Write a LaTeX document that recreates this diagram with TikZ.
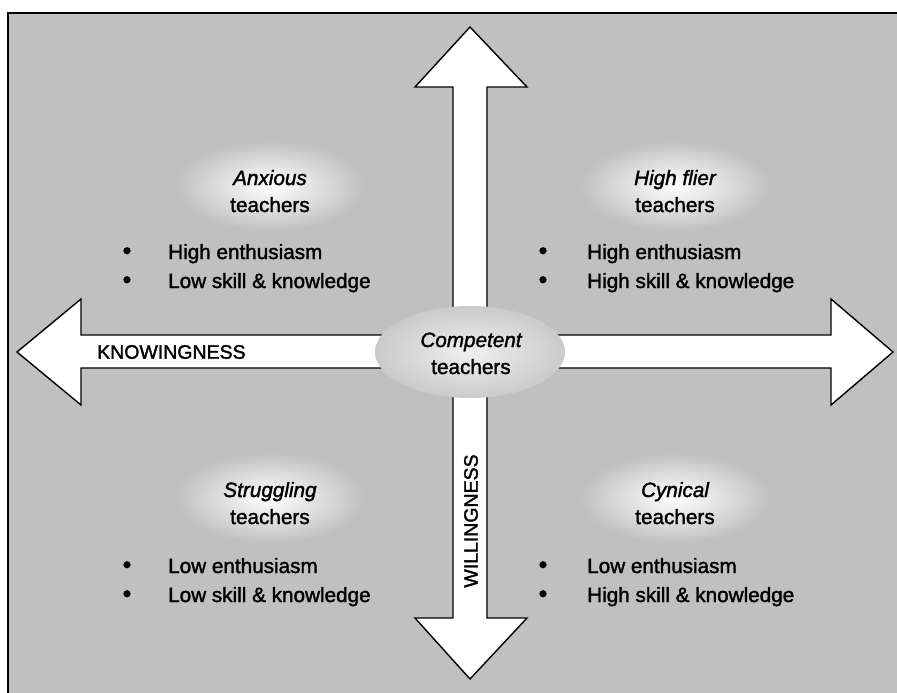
\documentclass[tikz,border=0pt]{standalone}
\usepackage{fontspec}
\setmainfont{Liberation Sans}[FakeBold=1.6]
\definecolor{bg}{RGB}{192,192,192}
\definecolor{ellout}{RGB}{202,202,202}
\definecolor{ellin}{RGB}{240,240,240}
\begin{document}
\begin{tikzpicture}[x=1pt,y=-1pt,
  txt/.style={font=\fontsize{20.7}{24}\selectfont, inner sep=0pt, anchor=base},
  btxt/.style={txt, anchor=base west},
  bul/.style={txt, scale=1.2},
  axislbl/.style={font=\fontsize{19.5}{22}\selectfont, inner sep=0pt},
  arrowshape/.style={fill=white, draw=black, line width=1.4pt, line join=miter},
  glow/.style={inner color=white, outer color=bg}]
\useasboundingbox (0,0) rectangle (897,693);
\fill[white] (0,0) rectangle (897,693);
\fill[bg] (8,13) rectangle (897,693);
\draw[line width=2pt] (8,693) -- (8,13) -- (897,13);

% glows behind quadrant titles
\shade[glow] (270,186) ellipse [x radius=95pt, y radius=45pt];
\shade[glow] (675,186) ellipse [x radius=95pt, y radius=45pt];
\shade[glow] (270,498) ellipse [x radius=95pt, y radius=45pt];
\shade[glow] (675,498) ellipse [x radius=95pt, y radius=45pt];

% axis arrows
\draw[arrowshape] (17,352) -- (81,299) -- (81,335) -- (831,335) -- (831,299)
  -- (893,352) -- (831,405) -- (831,368) -- (81,368) -- (81,405) -- cycle;
\draw[arrowshape] (470,27) -- (527,87) -- (487,87) -- (487,618) -- (527,618)
  -- (470,679) -- (415,618) -- (453,618) -- (453,87) -- (415,87) -- cycle;

% centre ellipse
\shade[inner color=ellin, outer color=ellout] (470,352) ellipse [x radius=95pt, y radius=46pt];
\node[txt] (ctop) at (471,347) {\itshape Competent};
\node[txt] (cbot) at (471,374) {teachers};

% axis labels
\node[axislbl, anchor=west] (know) at (97,352) {KNOWINGNESS};
\node[axislbl, rotate=90] (will) at (471,521) {WILLINGNESS};

% upper left
\node[txt] (ulA) at (270,185) {\itshape Anxious};
\node[txt] (ulB) at (270,212) {teachers};
\node[bul] (ulb1) at (127,259) {•};
\node[btxt] (ult1) at (168,259) {High enthusiasm};
\node[bul] (ulb2) at (127,288) {•};
\node[btxt] (ult2) at (168,288) {Low skill \& knowledge};

% upper right
\node[txt] (urA) at (675,185) {\itshape High flier};
\node[txt] (urB) at (675,212) {teachers};
\node[bul] (urb1) at (543,259) {•};
\node[btxt] (urt1) at (587,259) {High enthusiasm};
\node[bul] (urb2) at (543,288) {•};
\node[btxt] (urt2) at (587,288) {High skill \& knowledge};

% lower left
\node[txt] (llA) at (270,497) {\itshape Struggling};
\node[txt] (llB) at (270,524) {teachers};
\node[bul] (llb1) at (127,573) {•};
\node[btxt] (llt1) at (168,573) {Low enthusiasm};
\node[bul] (llb2) at (127,602) {•};
\node[btxt] (llt2) at (168,602) {Low skill \& knowledge};

% lower right
\node[txt] (lrA) at (675,497) {\itshape Cynical};
\node[txt] (lrB) at (675,524) {teachers};
\node[bul] (lrb1) at (543,573) {•};
\node[btxt] (lrt1) at (587,573) {Low enthusiasm};
\node[bul] (lrb2) at (543,602) {•};
\node[btxt] (lrt2) at (587,602) {High skill \& knowledge};
\end{tikzpicture}
\end{document}
